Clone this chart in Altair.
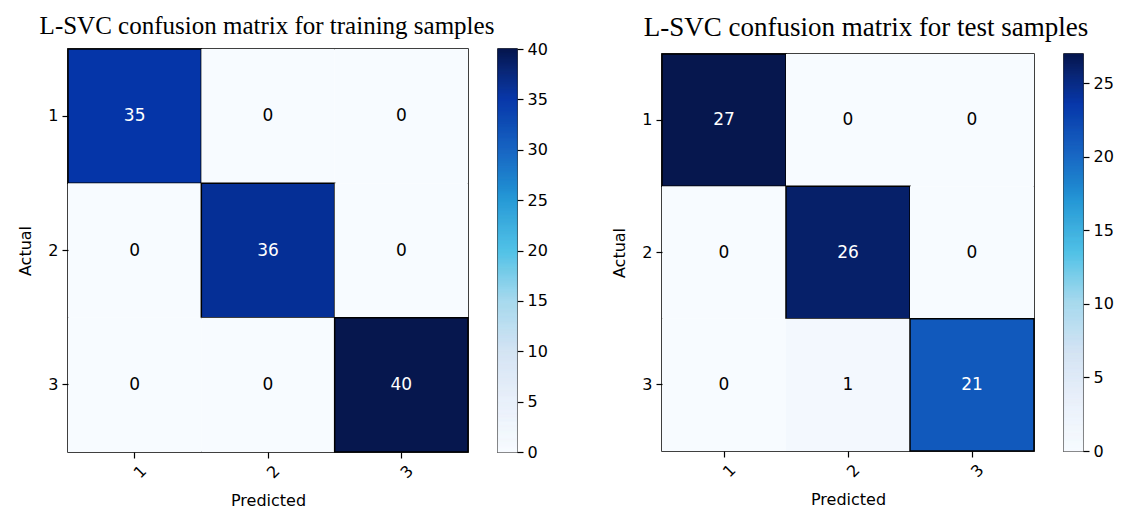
import altair as alt
import pandas as pd
import numpy as np

labels = ["1", "2", "3"]
train = [[35, 0, 0], [0, 36, 0], [0, 0, 40]]
test = [[27, 0, 0], [0, 26, 0], [0, 1, 21]]
titles = ["L-SVC confusion matrix for training samples", "L-SVC confusion matrix for test samples"]

stops = [0, 0.125, 0.25, 0.375, 0.5, 0.625, 0.75, 0.875, 1.0]
colors = ["#f7fbff", "#e9f0fa", "#d3e3f3", "#a6d9ee", "#4fc1e6", "#2599d6", "#1463c2", "#0535a8", "#06174e"]

SANS = "DejaVu Sans"


def panel(mat, title, w, h, top_gap, cb_gap, dx, tsize, toff):
    rows = []
    for i, a in enumerate(labels):
        for j, p in enumerate(labels):
            rows.append({"actual": a, "pred": p, "v": mat[i][j]})
    df = pd.DataFrame(rows)
    mx = max(max(r) for r in mat)
    cscale = alt.Scale(domain=[mx * s for s in stops], range=colors, interpolate="rgb")

    base = alt.Chart(df).encode(
        x=alt.X("pred:O", sort=labels,
                scale=alt.Scale(paddingInner=0, paddingOuter=0),
                axis=alt.Axis(title="Predicted", labelAngle=315, labelAlign="center",
                              labelBaseline="top", labelPadding=8, titlePadding=12)),
        y=alt.Y("actual:O", sort=labels,
                scale=alt.Scale(paddingInner=0, paddingOuter=0),
                axis=alt.Axis(title="Actual", labelAngle=0, labelPadding=4, titlePadding=14)),
    )
    rect = base.mark_rect(stroke="black", strokeWidth=1.5).encode(
        color=alt.Color("v:Q", scale=cscale, legend=None),
        strokeOpacity=alt.condition(f"datum.v > {mx * 0.2}", alt.value(1), alt.value(0)),
    )
    text = base.mark_text(font=SANS, fontSize=17).encode(
        text="v:Q",
        color=alt.condition(f"datum.v > {mx / 2}", alt.value("white"), alt.value("black")),
    )
    heat = alt.layer(rect, text).properties(width=w, height=h)

    n = 400
    vs = np.linspace(0, mx, n + 1)
    cb_df = pd.DataFrame({"v": vs[:-1], "v2": vs[1:]})
    cb = alt.Chart(cb_df).mark_rect(strokeWidth=0.8).encode(
        y=alt.Y("v:Q", scale=alt.Scale(domain=[0, mx], nice=False, zero=True),
                axis=alt.Axis(orient="right", values=list(range(0, mx + 1, 5)), title=None,
                              grid=False, domain=False, labelPadding=4)),
        y2="v2:Q",
        color=alt.Color("v:Q", scale=cscale, legend=None),
        stroke=alt.Stroke("v:Q", scale=cscale, legend=None),
    ).properties(width=19, height=h)

    body = alt.hconcat(heat, cb, spacing=cb_gap).resolve_scale(color="shared", stroke="shared")

    spacer = alt.Chart(pd.DataFrame({"a": [0]})).mark_point(opacity=0, size=0, strokeWidth=0).encode(
        x=alt.value(0), y=alt.value(0)
    ).properties(
        width=w, height=top_gap,
        view=alt.ViewBackground(stroke="transparent"),
        title=alt.TitleParams(title, font="Liberation Serif", fontSize=tsize, fontWeight="normal",
                              color="black", anchor="middle", offset=toff, dx=dx),
    )
    return alt.vconcat(spacer, body, spacing=0)


left = panel(train, titles[0], 400, 403, 1, 26, -1, 25, -5)
right = panel(test, titles[1], 372, 397, 17, 26, 18, 27, -7.5)

chart = alt.hconcat(left, right, spacing=62).resolve_scale(
    color="independent", stroke="independent", x="independent", y="independent"
).properties(
    padding={"left": 17, "top": 12, "right": 5, "bottom": 5},
    background="white",
).configure_view(
    stroke="black", strokeWidth=1.5
).configure_axis(
    labelFont=SANS, labelFontSize=16, labelColor="black",
    titleFont=SANS, titleFontSize=16, titleFontWeight="normal", titleColor="black",
    tickColor="black", tickSize=6, tickWidth=1.2, domain=False, grid=False,
)

chart.save("out.html", embed_options={"renderer": "svg", "actions": False})
